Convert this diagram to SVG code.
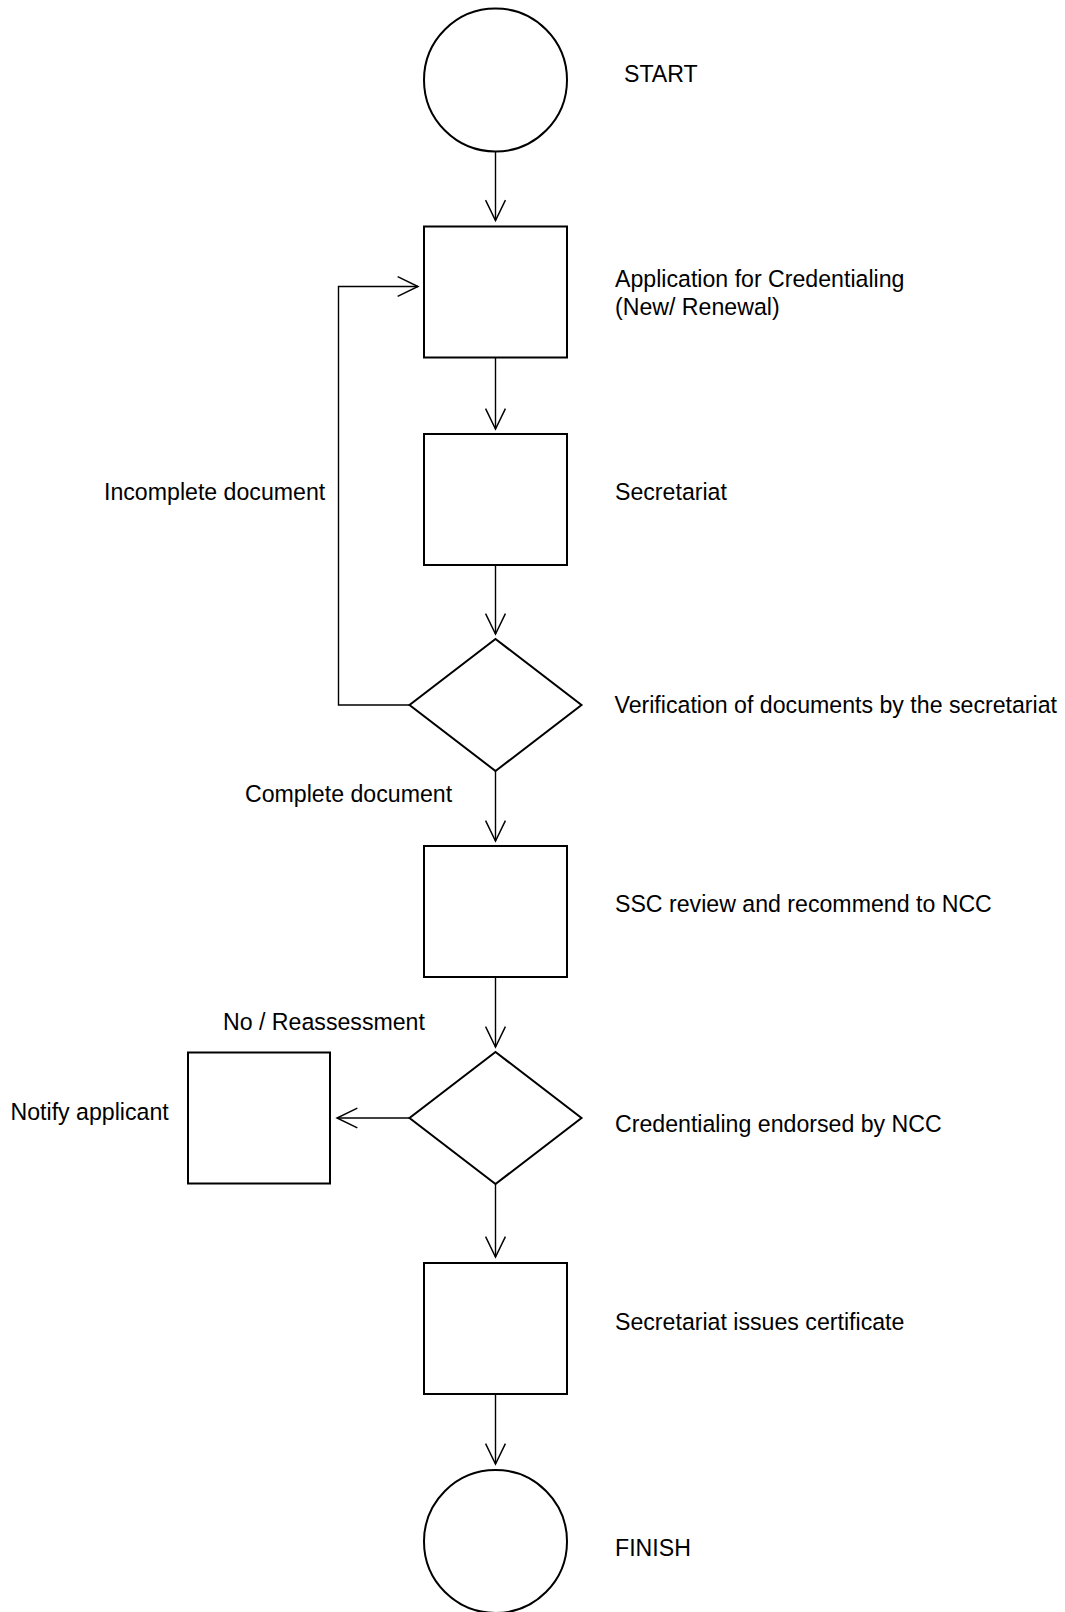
<svg xmlns="http://www.w3.org/2000/svg" width="1065" height="1612" viewBox="0 0 1065 1612">
<defs>
<style>
.shape{fill:#ffffff;stroke:#000000;stroke-width:2}
.conn{fill:none;stroke:#000000;stroke-width:1.4}
.lbl{font-family:"Liberation Sans",Arial,sans-serif;font-size:23.15px;fill:#000000}
</style>
<marker id="arr" markerUnits="userSpaceOnUse" markerWidth="24" markerHeight="24" viewBox="-21 -11 23 22" refX="0" refY="0" orient="auto" overflow="visible">
<path d="M-19.5,-9.5 L0,0 L-19.5,9.5" fill="none" stroke="#000000" stroke-width="1.4"/>
</marker>
</defs>
<rect width="1065" height="1612" fill="#ffffff"/>
<g id="connectors">
<path class="conn" d="M495.5,152 V220.5" marker-end="url(#arr)"/>
<path class="conn" d="M495.5,357.5 V429" marker-end="url(#arr)"/>
<path class="conn" d="M495.5,565 V634" marker-end="url(#arr)"/>
<path class="conn" d="M495.5,771 V841" marker-end="url(#arr)"/>
<path class="conn" d="M495.5,977 V1047" marker-end="url(#arr)"/>
<path class="conn" d="M495.5,1183.5 V1257" marker-end="url(#arr)"/>
<path class="conn" d="M495.5,1394 V1464" marker-end="url(#arr)"/>
<path class="conn" d="M409.5,1118 H337" marker-end="url(#arr)"/>
<path class="conn" d="M409.5,705 H338.5 V286.5 H418" marker-end="url(#arr)"/>
<text class="lbl" x="104" y="500">Incomplete document</text>
<text class="lbl" x="245" y="802">Complete document</text>
<text class="lbl" x="223" y="1029.5">No / Reassessment</text>
</g>
<g id="start">
<circle class="shape" cx="495.5" cy="80" r="71.5"/>
<text class="lbl" x="624" y="82">START</text>
</g>
<g id="application">
<rect class="shape" x="424" y="226.5" width="143" height="131"/>
<text class="lbl" x="615" y="287">Application for Credentialing</text>
<text class="lbl" x="615" y="315">(New/ Renewal)</text>
</g>
<g id="secretariat">
<rect class="shape" x="424" y="434" width="143" height="131"/>
<text class="lbl" x="615" y="500">Secretariat</text>
</g>
<g id="verification">
<polygon class="shape" points="495.5,639 581.5,705 495.5,771 409.5,705"/>
<text class="lbl" x="614.5" y="712.5">Verification of documents by the secretariat</text>
</g>
<g id="ssc">
<rect class="shape" x="424" y="846" width="143" height="131"/>
<text class="lbl" x="615" y="912">SSC review and recommend to NCC</text>
</g>
<g id="endorsed">
<polygon class="shape" points="495.5,1052 581.5,1118 495.5,1184 409.5,1118"/>
<text class="lbl" x="615" y="1131.5">Credentialing endorsed by NCC</text>
</g>
<g id="notify">
<rect class="shape" x="188" y="1052.5" width="142" height="131"/>
<text class="lbl" x="10.5" y="1119.5">Notify applicant</text>
</g>
<g id="certificate">
<rect class="shape" x="424" y="1263" width="143" height="131"/>
<text class="lbl" x="615" y="1330">Secretariat issues certificate</text>
</g>
<g id="finish">
<circle class="shape" cx="495.5" cy="1541.5" r="71.5"/>
<text class="lbl" x="615" y="1556">FINISH</text>
</g>
</svg>
